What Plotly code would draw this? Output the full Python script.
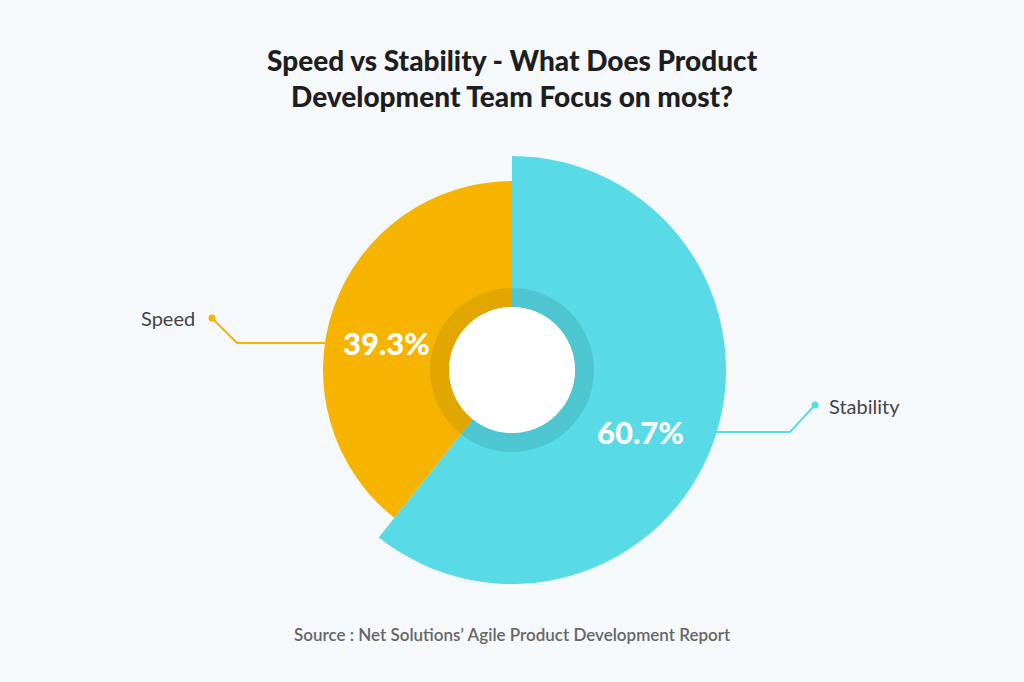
import plotly.graph_objects as go

labels = ["Stability", "Speed"]
values = [60.7, 39.3]
colors = ["#58DBE6", "#F6B400"]
shadow_colors = ["#4DC6D2", "#E2A600"]
title_text = "Speed vs Stability - What Does Product<br>Development Team Focus on most?"
source_text = "Source : Net Solutions’ Agile Product Development Report"

W, H = 1024, 682
CX, CY = 512, 370  # center in px from top-left
BG = "#F5F9FC"

def dom(r):
    cy = H - CY
    return dict(x=[(CX - r) / W, (CX + r) / W], y=[(cy - r) / H, (cy + r) / H])

fig = go.Figure()
radii = [214, 189]
for i, r in enumerate(radii):
    cols = ["rgba(0,0,0,0)"] * len(values)
    cols[i] = colors[i]
    fig.add_trace(go.Pie(
        labels=labels, values=values, sort=False, direction="clockwise",
        rotation=0, hole=63 / r, domain=dom(r), textinfo="none", hoverinfo="skip",
        marker=dict(colors=cols, line=dict(width=0)), showlegend=False))

fig.add_trace(go.Pie(
    labels=labels, values=values, sort=False, direction="clockwise",
    rotation=0, hole=63 / 82, domain=dom(82), textinfo="none", hoverinfo="skip",
    marker=dict(colors=shadow_colors, line=dict(width=0)), showlegend=False))

fig.add_trace(go.Pie(
    labels=["hole"], values=[1], domain=dom(63), textinfo="none", hoverinfo="skip",
    marker=dict(colors=["#FFFFFF"], line=dict(width=0)), showlegend=False))

def px(x, y):
    return x / W, 1 - y / H

annots = []
# percentages
for (x, y), v in zip([(640, 432), (386, 343)], values):
    ax, ay = px(x, y)
    annots.append(dict(x=ax, y=ay, xref="paper", yref="paper", showarrow=False,
                       text=f"{v:.1f}%", yanchor="middle",
                       font=dict(family="Lato", size=31, color="white", weight=900)))
# category labels
for (x, y), lab, anc in zip([(827, 406), (197, 318)], labels, ["left", "right"]):
    ax, ay = px(x, y)
    annots.append(dict(x=ax, y=ay, xref="paper", yref="paper", showarrow=False,
                       text=lab, xanchor=anc, yanchor="middle",
                       font=dict(family="Lato", size=20, color="#444444")))
# title
annots.append(dict(x=0.5, y=px(0, 78)[1], xref="paper", yref="paper", showarrow=False,
                   text=title_text, align="center", yanchor="middle",
                   font=dict(family="Lato", size=28, color="#1E1E1E", weight=900)))
annots.append(dict(x=0.5, y=px(0, 634)[1], xref="paper", yref="paper", showarrow=False,
                   text=source_text, yanchor="middle",
                   font=dict(family="Lato", size=17, color="#666666", weight=600)))

shapes = []
lines = [
    ([(815, 405), (790, 432), (716, 432)], colors[0]),
    ([(212, 318), (237, 343), (330, 343)], colors[1]),
]
for pts, c in lines:
    path = "M " + " L ".join(f"{px(x, y)[0]},{px(x, y)[1]}" for x, y in pts)
    shapes.append(dict(type="path", path=path, xref="paper", yref="paper",
                       line=dict(color=c, width=2)))
    x, y = pts[0]
    shapes.append(dict(type="circle", xref="paper", yref="paper",
                       x0=(x - 3.5) / W, x1=(x + 3.5) / W,
                       y0=1 - (y + 3.5) / H, y1=1 - (y - 3.5) / H,
                       fillcolor=c, line=dict(width=0)))

fig.update_layout(width=W, height=H, margin=dict(l=0, r=0, t=0, b=0),
                  paper_bgcolor=BG, plot_bgcolor=BG,
                  annotations=annots, shapes=shapes)
fig.write_html("out.html")
